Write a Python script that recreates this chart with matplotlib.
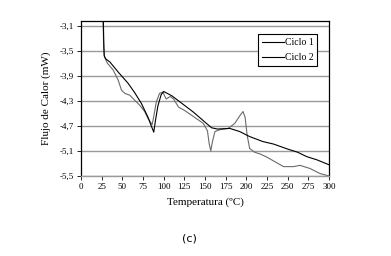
import matplotlib.pyplot as plt

# Ciclo 1 (black curve)
temp_c1 = [27, 27.5, 28, 30, 35, 45, 57, 65, 73, 81, 85, 88, 90, 93, 97, 100,
           110, 120, 136, 150, 158, 165, 180, 192, 204, 220, 233, 250, 262,
           273, 285, 300]
flujo_c1 = [-3.0, -3.35, -3.58, -3.63, -3.68, -3.84, -4.02, -4.17, -4.34, -4.56,
            -4.70, -4.80, -4.62, -4.38, -4.20, -4.15, -4.22, -4.32, -4.48, -4.64,
            -4.73, -4.75, -4.74, -4.79, -4.87, -4.95, -4.99, -5.07, -5.12,
            -5.19, -5.24, -5.32]

# Ciclo 2 (grey curve)
temp_c2 = [26.5, 27, 27.5, 28.5, 32, 39, 45, 49, 53, 59, 65, 71, 77, 81, 84, 86,
           88, 91, 95, 99, 103, 108, 112, 118, 125, 136, 148, 153, 155, 157,
           159, 162, 168, 178, 186, 192, 196, 198.5, 201, 204, 210, 217, 225,
           233, 245, 257, 265, 277, 289, 300]
flujo_c2 = [-3.0, -3.2, -3.45, -3.6, -3.7, -3.81, -3.97, -4.13, -4.18, -4.21,
            -4.29, -4.37, -4.47, -4.58, -4.64, -4.68, -4.55, -4.32, -4.18, -4.16,
            -4.27, -4.23, -4.27, -4.40, -4.45, -4.55, -4.66, -4.78, -4.98, -5.10,
            -4.95, -4.79, -4.76, -4.74, -4.66, -4.54, -4.47, -4.56, -4.85, -5.06,
            -5.12, -5.15, -5.20, -5.26, -5.35, -5.35, -5.33, -5.38, -5.46, -5.50]

x_ticks = list(range(0, 301, 25))
y_ticks = [-5.5, -5.1, -4.7, -4.3, -3.9, -3.5, -3.1]
y_labels = [f"{v:.1f}".replace(".", ",") for v in y_ticks]

plt.rcParams["font.family"] = ["Liberation Serif", "DejaVu Serif"]

fig = plt.figure(figsize=(3.91, 2.56), dpi=100)
ax = fig.add_axes([0.2072, 0.3125, 0.6342, 0.6065])

for y in y_ticks:
    ax.axhline(y, color="#9a9a9a", lw=1.0, zorder=1)

ax.plot(temp_c1, flujo_c1, color="black", lw=0.8, label="Ciclo 1", zorder=3)
ax.plot(temp_c2, flujo_c2, color="#6a6a6a", lw=0.8, label="Ciclo 2", zorder=2)

ax.set_xlim(0, 300)
ax.set_ylim(-5.5, -3.02)
ax.set_xticks(x_ticks)
ax.set_xticklabels([str(t) for t in x_ticks], fontsize=6.5)
ax.set_yticks(y_ticks)
ax.set_yticklabels(y_labels, fontsize=6.5)
ax.tick_params(axis="both", direction="out", length=3, width=0.6, pad=2)

for side in ["left", "top", "right"]:
    ax.spines[side].set_color("black")
    ax.spines[side].set_linewidth(0.9)
ax.spines["bottom"].set_color("#9a9a9a")
ax.spines["bottom"].set_linewidth(1.0)

ax.set_xlabel("Temperatura (ºC)", fontsize=8, labelpad=5)
ax.set_ylabel("Flujo de Calor (mW)", fontsize=8, labelpad=6)

leg = ax.legend(loc="upper right", bbox_to_anchor=(0.8115, 0.866),
                bbox_transform=fig.transFigure, borderaxespad=0, fontsize=7,
                handlelength=2.2, handletextpad=0.1, labelspacing=0.6,
                fancybox=False, framealpha=1, edgecolor="black",
                borderpad=0.4)
leg.get_frame().set_linewidth(0.8)
for line in leg.get_lines():
    line.set_color("black")

fig.text(0.484, 0.07, "(c)", fontsize=8, family="DejaVu Sans",
         ha="center", va="center")

fig.savefig("out.png", dpi=100)
